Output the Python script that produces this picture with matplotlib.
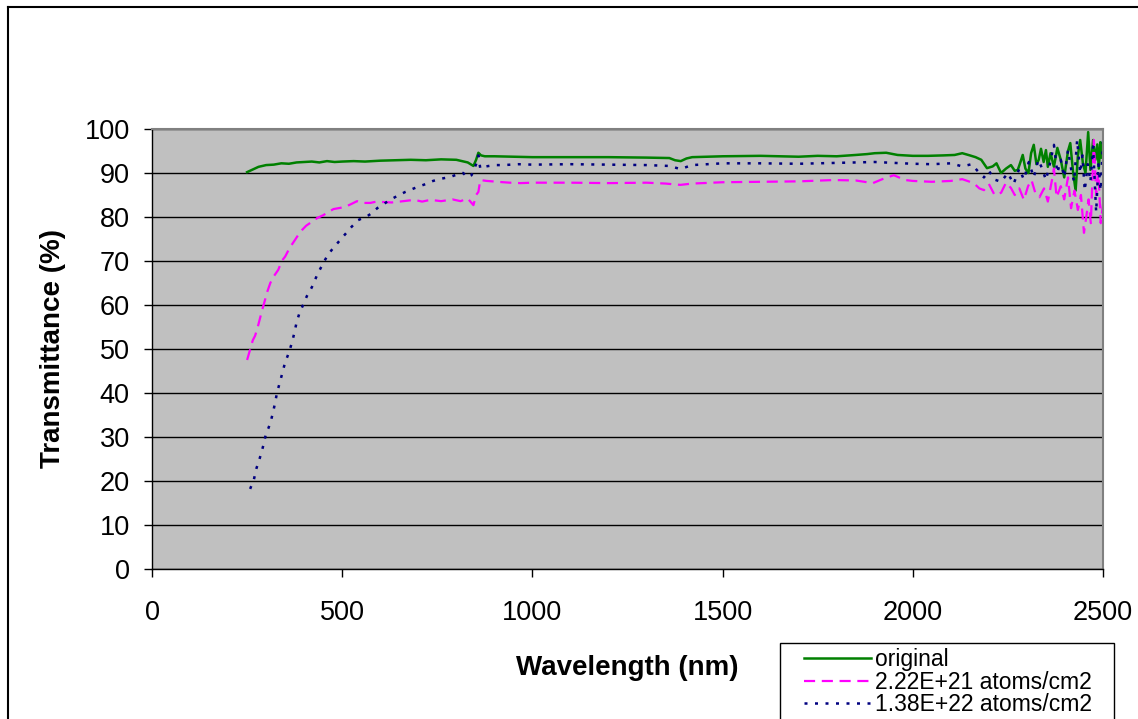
import matplotlib
matplotlib.use("Agg")
import matplotlib.pyplot as plt
from matplotlib.lines import Line2D
from matplotlib.patches import Rectangle

plt.rcParams['font.family'] = ['Liberation Sans', 'DejaVu Sans']

# original sample
wl_orig = [250, 260, 270, 280, 290, 300, 320, 340, 360, 380,
           400, 420, 440, 460, 480, 500, 530, 560, 600, 640,
           680, 720, 760, 800, 830, 845, 852, 858, 865, 875,
           900, 950, 1000, 1100, 1200, 1300, 1360, 1375, 1390, 1405,
           1420, 1500, 1600, 1700, 1750, 1800, 1850, 1880, 1900, 1930,
           1960, 2000, 2040, 2080, 2110, 2130, 2150, 2165, 2180, 2195,
           2210, 2220, 2232, 2245, 2258, 2268, 2276, 2283, 2289, 2296,
           2304, 2311, 2318, 2325, 2331, 2337, 2344, 2350, 2355, 2362,
           2371, 2380, 2389, 2398, 2408, 2414, 2421, 2428, 2434, 2440,
           2447, 2454, 2461, 2467, 2474, 2480, 2485, 2489, 2493, 2497]
t_orig = [90.2, 90.6, 91.0, 91.4, 91.6, 91.8, 91.9, 92.2, 92.1, 92.4,
          92.5, 92.6, 92.4, 92.7, 92.5, 92.6, 92.7, 92.6, 92.8, 92.9,
          93.0, 92.9, 93.1, 93.0, 92.4, 91.6, 93.0, 94.6, 94.0, 93.8,
          93.8, 93.7, 93.6, 93.6, 93.6, 93.5, 93.4, 92.9, 92.7, 93.3,
          93.6, 93.8, 93.9, 93.7, 93.9, 93.8, 94.1, 94.3, 94.5, 94.6,
          94.1, 93.9, 93.9, 94.0, 94.1, 94.5, 94.0, 93.6, 93.0, 91.1,
          91.5, 92.2, 90.0, 91.0, 91.8, 90.5, 90.7, 92.5, 94.1, 91.0,
          90.0, 94.5, 96.4, 92.0, 93.0, 95.5, 92.5, 95.2, 91.4, 94.5,
          91.4, 95.7, 93.0, 89.0, 95.0, 96.8, 90.5, 86.0, 94.0, 97.5,
          92.3, 90.0, 99.3, 90.7, 97.5, 93.0, 96.5, 91.0, 97.0, 93.5]

# 2.22E+21 atoms/cm2
wl_low = [250, 255, 260, 265, 271, 278, 284, 290, 295, 303,
          311, 320, 332, 341, 350, 362, 376, 385, 394, 405,
          420, 435, 450, 465, 477, 490, 508, 525, 539, 555,
          574, 590, 608, 630, 661, 690, 710, 732, 760, 790,
          811, 830, 845, 852, 858, 863, 880, 908, 940, 968,
          1000, 1100, 1200, 1300, 1350, 1389, 1420, 1500, 1600, 1700,
          1792, 1850, 1895, 1920, 1950, 1980, 2000, 2050, 2100, 2130,
          2160, 2175, 2187, 2200, 2215, 2232, 2245, 2258, 2268, 2280,
          2292, 2303, 2312, 2322, 2333, 2345, 2355, 2365, 2371, 2378,
          2389, 2398, 2408, 2416, 2425, 2434, 2442, 2450, 2456, 2462,
          2468, 2476, 2482, 2488, 2494, 2500]
t_low = [47.5, 49.0, 50.5, 52.0, 53.0, 55.0, 57.0, 59.0, 60.5, 63.0,
         65.0, 66.5, 68.0, 70.0, 71.0, 73.0, 74.8, 76.0, 77.0, 78.0,
         78.9, 79.8, 80.4, 81.2, 81.8, 82.0, 82.3, 83.0, 83.6, 83.2,
         83.2, 83.5, 83.4, 83.3, 83.6, 83.9, 83.5, 83.9, 83.6, 84.0,
         83.6, 84.2, 82.7, 85.0, 85.7, 88.4, 88.2, 88.0, 87.8, 87.7,
         87.8, 87.8, 87.7, 87.8, 87.6, 87.3, 87.6, 87.9, 88.0, 88.1,
         88.4, 88.3, 87.7, 88.6, 89.5, 88.4, 88.2, 88.0, 88.2, 88.6,
         87.7, 86.5, 86.1, 87.5, 85.0, 85.5, 87.8, 86.6, 85.0, 86.5,
         83.9, 87.0, 88.4, 85.5, 84.5, 86.5, 83.5, 88.0, 91.0, 84.5,
         87.0, 84.0, 89.0, 82.0, 86.0, 81.6, 85.0, 76.4, 80.0, 84.0,
         78.6, 97.5, 85.0, 90.0, 78.6, 83.0]

# 1.38E+22 atoms/cm2
wl_high = [258, 263, 268, 275, 281, 287, 294, 300, 306, 311,
           318, 324, 329, 337, 344, 350, 356, 361, 368, 374,
           380, 387, 392, 397, 407, 420, 435, 450, 463, 477,
           492, 508, 525, 542, 566, 580, 592, 610, 626, 645,
           666, 697, 720, 739, 760, 784, 800, 818, 829, 840,
           852, 858, 863, 871, 900, 924, 963, 1000, 1100, 1200,
           1300, 1360, 1389, 1420, 1500, 1600, 1700, 1800, 1900, 1950,
           2000, 2050, 2100, 2130, 2155, 2170, 2187, 2200, 2215, 2232,
           2250, 2265, 2280, 2292, 2305, 2318, 2330, 2340, 2350, 2360,
           2371, 2380, 2389, 2398, 2408, 2416, 2424, 2432, 2440, 2446,
           2452, 2460, 2467, 2474, 2482, 2488, 2494, 2500]
t_high = [18.2, 19.3, 20.4, 23.0, 24.5, 26.3, 28.5, 30.9, 32.0, 33.2,
          35.5, 38.0, 40.2, 42.7, 45.0, 47.0, 48.3, 49.5, 51.5, 53.6,
          56.0, 58.0, 59.0, 60.0, 62.0, 64.0, 67.0, 69.5, 71.5, 73.0,
          74.5, 76.1, 77.8, 79.3, 80.2, 81.0, 82.0, 83.0, 83.9, 84.8,
          85.7, 86.8, 87.5, 88.2, 88.7, 89.1, 89.6, 90.0, 89.0, 89.5,
          92.0, 94.0, 91.0, 91.4, 91.8, 91.8, 92.0, 91.9, 92.0, 91.9,
          91.8, 91.6, 90.9, 91.8, 92.2, 92.2, 92.1, 92.3, 92.5, 92.3,
          92.1, 92.0, 92.2, 91.5, 92.0, 90.5, 89.0, 90.5, 88.5, 88.0,
          90.0, 87.5, 91.0, 88.5, 92.5, 89.0, 93.0, 91.0, 88.4, 92.0,
          96.4, 90.0, 93.0, 89.0, 95.2, 91.0, 88.0, 97.5, 90.0, 94.0,
          86.0, 92.0, 88.0, 96.0, 81.1, 92.0, 86.0, 97.5]

fig = plt.figure(figsize=(11.38, 7.19), dpi=100)
ax = fig.add_axes([152 / 1138, 1 - 569 / 719, 951 / 1138, 440 / 719])
ax.set_facecolor('#C0C0C0')

ax.plot(wl_orig, t_orig, color='#008000', lw=1.8, label='original')
ax.plot(wl_low, t_low, color='#FF00FF', lw=1.6, dashes=(5, 3), label='2.22E+21 atoms/cm2')
ax.plot(wl_high, t_high, color='#000080', lw=1.8, dashes=(1.2, 3), label='1.38E+22 atoms/cm2')

ax.set_xlim(0, 2500)
ax.set_ylim(0, 100)
ax.set_xticks([0, 500, 1000, 1500, 2000, 2500])
ax.set_yticks(range(0, 101, 10))
ax.yaxis.grid(True, color='black', lw=1)
ax.set_axisbelow(True)
for s in ['top', 'right']:
    ax.spines[s].set_color('#808080')
    ax.spines[s].set_linewidth(1.5)
for s in ['left', 'bottom']:
    ax.spines[s].set_color('black')
    ax.spines[s].set_linewidth(1)
ax.tick_params(direction='out', length=6, width=1, labelsize=19.5)
ax.tick_params(axis='x', pad=16)
ax.tick_params(axis='y', pad=10)

ax.set_xlabel('Wavelength (nm)', fontsize=20, fontweight='bold', labelpad=21)
ax.set_ylabel('Transmittance (%)', fontsize=20, fontweight='bold', labelpad=13)

# legend box drawn separately so its padding can match the reference
fig.add_artist(Rectangle((780 / 1138, -0.05), 334 / 1138, 1 - 643 / 719 + 0.05,
                         transform=fig.transFigure, facecolor='white',
                         edgecolor='black', lw=1, zorder=2))
leg = fig.legend(loc='upper left', bbox_to_anchor=(801 / 1138, 1 - 645 / 719),
                 fontsize=16.5, frameon=False, borderpad=0.15,
                 labelspacing=-0.03, handlelength=2.9, handletextpad=0.2,
                 borderaxespad=0)
leg.set_zorder(3)

# outer chart border (left and top edges visible)
fig.add_artist(Line2D([8 / 1138, 8 / 1138], [0, 1 - 7 / 719], color='black', lw=1.5))
fig.add_artist(Line2D([8 / 1138, 1], [1 - 7 / 719, 1 - 7 / 719], color='black', lw=1.5))

fig.savefig('out.png', dpi=100)
